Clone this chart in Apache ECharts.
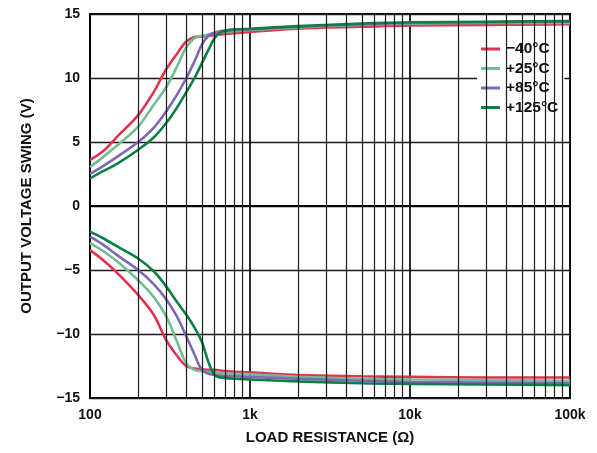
<!DOCTYPE html>
<html>
<head>
<meta charset="utf-8">
<script src="https://cdn.jsdelivr.net/npm/echarts@6/dist/echarts.min.js"></script>
<style>
html,body{margin:0;padding:0;background:#fff;}
#chart{width:597px;height:453px;}
</style>
</head>
<body>
<div id="chart"></div>
<script>
// Load resistance (ohms)
var loadOhms = [100, 120, 150, 200, 250, 300, 350, 400, 450, 500, 550, 600, 650, 700, 800, 1000, 2000, 5000, 10000, 30000, 100000];

// Positive output swing (V)
var posM40  = [3.6, 4.25, 5.5, 7.1, 8.9, 10.7, 11.9, 12.85, 13.2, 13.25, 13.3, 13.35, 13.4, 13.45, 13.5, 13.6, 13.85, 14.0, 14.1, 14.15, 14.2];
var posP25  = [3.05, 3.8, 4.8, 6.2, 7.9, 9.3, 10.9, 12.4, 13.1, 13.3, 13.4, 13.5, 13.55, 13.6, 13.65, 13.75, 13.95, 14.15, 14.25, 14.3, 14.3];
var posP85  = [2.5, 3.1, 3.9, 5.0, 6.1, 7.4, 8.7, 10.0, 11.3, 12.6, 13.3, 13.55, 13.65, 13.7, 13.75, 13.8, 14.0, 14.2, 14.3, 14.35, 14.4];
var posP125 = [2.15, 2.7, 3.35, 4.4, 5.35, 6.5, 7.7, 8.9, 10.0, 11.15, 12.2, 13.1, 13.55, 13.7, 13.8, 13.85, 14.05, 14.25, 14.35, 14.4, 14.45];

// Negative output swing (V)
var negM40  = [-3.45, -4.2, -5.3, -6.95, -8.5, -10.5, -11.7, -12.5, -12.7, -12.75, -12.8, -12.8, -12.85, -12.9, -12.95, -13.0, -13.2, -13.3, -13.35, -13.4, -13.4];
var negP25  = [-2.9, -3.5, -4.4, -5.8, -7.1, -8.65, -10.6, -12.3, -12.8, -12.9, -12.95, -13.0, -13.05, -13.1, -13.1, -13.15, -13.35, -13.5, -13.55, -13.6, -13.65];
var negP85  = [-2.4, -3.0, -3.9, -5.0, -6.1, -7.3, -8.65, -10.2, -11.6, -12.8, -13.1, -13.2, -13.25, -13.3, -13.3, -13.35, -13.5, -13.65, -13.75, -13.8, -13.85];
var negP125 = [-2.0, -2.5, -3.2, -4.1, -5.1, -6.3, -7.5, -8.5, -9.5, -10.6, -12.2, -13.2, -13.4, -13.45, -13.5, -13.55, -13.7, -13.85, -13.9, -13.95, -14.0];

var seriesNames = ['\u221240\u00b0C', '+25\u00b0C', '+85\u00b0C', '+125\u00b0C'];
var seriesColors = ['#e3324f', '#6fbf94', '#7e66b8', '#0b8046'];

// Axis tick labels
var xTickValues = [100, 1000, 10000, 100000];
var xTickLabels = ['100', '1k', '10k', '100k'];
var minorGridValues = [200,300,400,500,600,700,800,900,2000,3000,4000,5000,6000,7000,8000,9000,20000,30000,40000,50000,60000,70000,80000,90000];

function pairs(ys) { return loadOhms.map(function (x, i) { return [x, ys[i]]; }); }

var posSets = [posM40, posP25, posP85, posP125];
var negSets = [negM40, negP25, negP85, negP125];

var FONT = '"Liberation Sans", Arial, Helvetica, sans-serif';

var series = [{
  type: 'line', data: [], z: 1, silent: true,
  markLine: {
    silent: true, symbol: ['none', 'none'], label: { show: false },
    lineStyle: { color: '#1a1a1a', width: 1.2, type: 'solid' },
    animation: false,
    data: minorGridValues.map(function (v) { return { xAxis: v }; })
  }
}];
for (var i = 0; i < 4; i++) {
  [posSets[i], negSets[i]].forEach(function (set) {
    series.push({
      name: seriesNames[i], type: 'line', data: pairs(set), symbol: 'none',
      smooth: 0.35, z: 3,
      lineStyle: { color: seriesColors[i], width: 2.6 },
      itemStyle: { color: seriesColors[i] }
    });
  });
}

var chart = echarts.init(document.getElementById('chart'), null, { renderer: 'canvas' });
chart.setOption({
  animation: false,
  backgroundColor: '#fff',
  grid: { left: 90, right: 27, top: 14, bottom: 55, show: true, borderColor: '#000', borderWidth: 2, backgroundColor: 'transparent', containLabel: false },
  legend: {
    orient: 'vertical', left: 477, top: 35,
    backgroundColor: '#fff', padding: [6, 6, 7, 4],
    icon: 'rect',
    itemWidth: 19, itemHeight: 3, itemGap: 3.5,
    data: seriesNames,
    textStyle: { fontFamily: FONT, fontWeight: 'bold', fontSize: 15.5, lineHeight: 16, color: '#111', padding: [0, 0, 0, 1] }
  },
  xAxis: {
    type: 'log', logBase: 10, min: 100, max: 100000,
    name: 'LOAD RESISTANCE (\u03a9)', nameLocation: 'middle', nameGap: 32,
    nameTextStyle: { fontFamily: FONT, fontWeight: 'bold', fontSize: 15, color: '#111' },
    axisLine: { show: true, lineStyle: { color: '#000', width: 2 } },
    axisTick: { show: false },
    axisLabel: {
      fontFamily: FONT, fontWeight: 'bold', fontSize: 14, color: '#111', margin: 10,
      formatter: function (v) { var k = xTickValues.indexOf(Math.round(v)); return k >= 0 ? xTickLabels[k] : ''; }
    },
    splitLine: { show: true, lineStyle: { color: '#111', width: 1.8 } }
  },
  yAxis: {
    type: 'value', min: -15, max: 15, interval: 5,
    name: 'OUTPUT VOLTAGE SWING (V)', nameLocation: 'middle', nameGap: 56,
    nameTextStyle: { fontFamily: FONT, fontWeight: 'bold', fontSize: 15, color: '#111' },
    axisLine: { show: true, lineStyle: { color: '#000', width: 2 } },
    axisTick: { show: false },
    axisLabel: {
      fontFamily: FONT, fontWeight: 'bold', fontSize: 14, color: '#111', margin: 10,
      formatter: function (v) { return String(v).replace('-', '\u2212'); }
    },
    splitLine: { show: true, lineStyle: { color: '#1a1a1a', width: 1.4 } }
  },
  series: series
});
</script>
</body>
</html>
